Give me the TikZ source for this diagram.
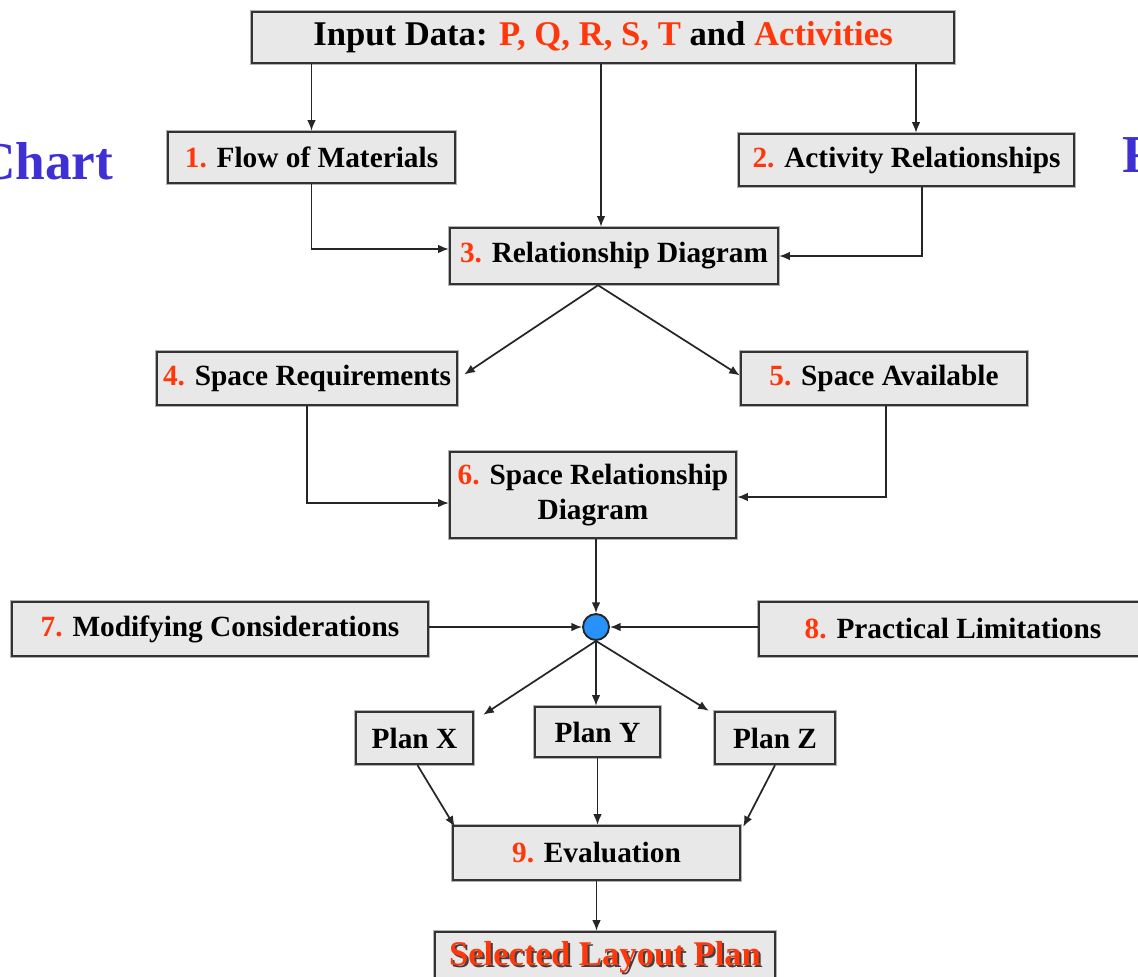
\documentclass[tikz,border=0pt]{standalone}
\usepackage{fontspec}
\setmainfont{Liberation Serif}
\usetikzlibrary{arrows.meta,calc}
\definecolor{numred}{RGB}{255,55,10}
\definecolor{headblue}{RGB}{62,48,212}
\definecolor{boxfill}{RGB}{232,232,232}
\definecolor{dotblue}{RGB}{40,145,250}
\tikzset{
  stepbox/.style={draw=black!80, line width=1.8pt, fill=boxfill,
    preaction={draw=black!30, line width=3.4pt},
    inner sep=0pt, align=center, font=\fontsize{22}{28}\selectfont\bfseries},
  sz/.style 2 args={minimum width=#1*0.75pt, minimum height=#2*0.75pt},
  arr/.style={draw=black!85, line width=1.3pt, -{Latex[length=8pt,width=6.5pt]}},
}
\newcommand{\nr}[1]{\textcolor{numred}{#1}}
\begin{document}
\begin{tikzpicture}[x=0.75pt,y=-0.75pt]
\path[use as bounding box] (0,0) rectangle (1138,977);
\clip (0,0) rectangle (1138,977);

% side headings, partly outside the frame
\node[anchor=base east, text=headblue, font=\fontsize{40}{44}\selectfont\bfseries] (hl) at (118,180) {Chart};
\node[anchor=base west, text=headblue, font=\fontsize{40}{44}\selectfont\bfseries] (hr) at (1118,172) {F};

% boxes
\node[stepbox, sz={702}{51}, font=\fontsize{26}{30}\selectfont\bfseries] (inp) at (603,37.5)
  {Input Data: \nr{P, Q, R, S, T} and \nr{Activities}};
\node[stepbox, sz={287}{51}] (b1) at (311.5,157.5) {\nr{1.} Flow of Materials};
\node[stepbox, sz={335}{52}] (b2) at (906.5,160) {\nr{2.} Activity Relationships};
\node[stepbox, sz={328}{56}] (b3) at (614,256) {\nr{3.} Relationship Diagram};
\node[stepbox, sz={300}{53}] (b4) at (307,378.5) {\nr{4.} Space Requirements};
\node[stepbox, sz={286}{53}] (b5) at (884,378.5) {\nr{5.} Space Available};
\node[stepbox, sz={286}{86}, font=\fontsize{22}{26}\selectfont\bfseries] (b6) at (593,495)
  {\nr{6.} Space Relationship\\Diagram};
\node[circle, draw=black!85, line width=1.4pt, fill=dotblue, minimum size=19.5pt, inner sep=0pt] (c) at (596,627) {};
\node[stepbox, sz={416}{54}] (b7) at (220,629) {\nr{7.} Modifying Considerations};
\node[stepbox, sz={388}{54}] (b8) at (953,629) {\nr{8.} Practical Limitations};
\node[stepbox, sz={117}{52}] (px) at (414.5,738) {Plan X};
\node[stepbox, sz={125}{50}] (py) at (597.5,732) {Plan Y};
\node[stepbox, sz={120}{52}] (pz) at (775,738) {Plan Z};
\node[stepbox, sz={287}{54}] (b9) at (596.5,853) {\nr{9.} Evaluation};
\node[stepbox, sz={340}{56}] (sel) at (605,960) {};
\node[text=black!75, font=\fontsize{26}{30}\selectfont\bfseries] (selsh) at (607,959) {Selected Layout Plan};
\node[text=numred, font=\fontsize{26}{30}\selectfont\bfseries] (seltxt) at (605,957) {Selected Layout Plan};

% connectors
\draw[arr] (inp.south -| b1.north) -- (b1.north);
\draw[arr] (inp.south -| 601,0) -- (b3.north -| 601,0);
\draw[arr] (inp.south -| 916,0) -- (b2.north -| 916,0);
\draw[arr] (b1.south) |- ($(b3.west)+(0,-7)$);
\draw[arr] (b2.south -| 922,0) |- (b3.east);
\draw[arr] (b3.south -| 598,0) -- ($(b4.east)+(6,-4)$);
\draw[arr] (b3.south -| 598,0) -- ($(b5.west)+(0,-3)$);
\draw[arr] (b4.south) |- ($(b6.west)+(0,8)$);
\draw[arr] (b5.south -| 886,0) |- ($(b6.east)+(0,2)$);
\draw[arr] (c |- b6.south) -- (c.north);
\draw[arr] (b7.east |- c) -- (c.west);
\draw[arr] (b8.west |- c) -- (c.east);
\draw[arr] (c.south) -- ($(px.north east)+(9,4)$);
\draw[arr] (c.south) -- (c.south |- py.north);
\draw[arr] (c.south) -- ($(pz.north west)+(-5,0)$);
\draw[arr] ($(px.south)+(3,0)$) -- ($(b9.north west)+(3,2)$);
\draw[arr] (py.south) -- (py.south |- b9.north);
\draw[arr] (pz.south) -- ($(b9.north east)+(2,2)$);
\draw[arr] (b9.south) -- (b9.south |- sel.north);
\end{tikzpicture}
\end{document}
